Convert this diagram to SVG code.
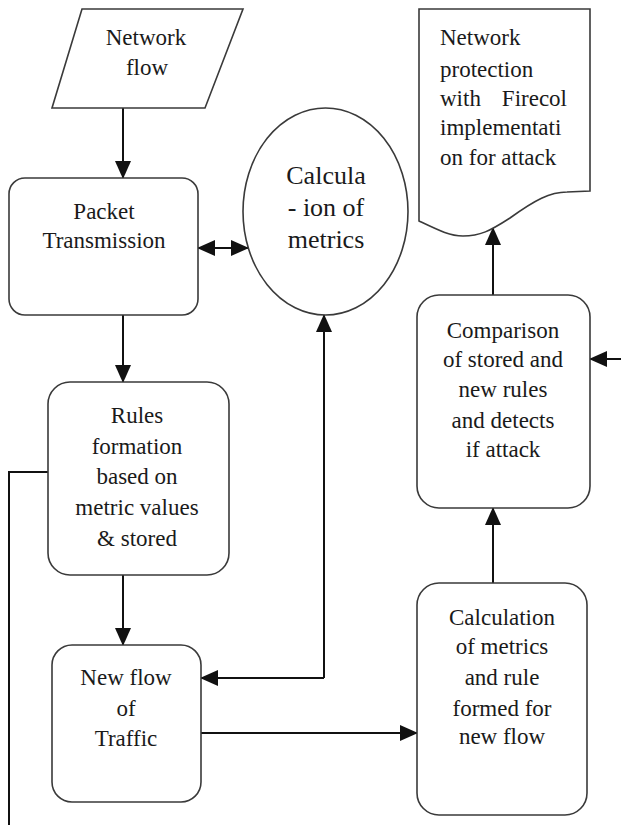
<svg xmlns="http://www.w3.org/2000/svg" width="621" height="825" viewBox="0 0 621 825">
<style>
.shape{fill:#fff;stroke:#3a3a3a;stroke-width:1.6}
.t{font-family:'Liberation Serif','Times New Roman','DejaVu Serif',serif;font-size:23px;fill:#1a1a1a;text-anchor:middle}
.tl{font-family:'Liberation Serif','Times New Roman','DejaVu Serif',serif;font-size:23px;fill:#1a1a1a}
.tb{font-family:'Liberation Serif','Times New Roman','DejaVu Serif',serif;font-size:26px;fill:#1a1a1a;text-anchor:middle}
.c{fill:none;stroke:#111;stroke-width:2}
.arr{marker-end:url(#ah)}
</style>
<defs>
<marker id="ah" markerUnits="userSpaceOnUse" markerWidth="18" markerHeight="16" viewBox="0 0 18 16" refX="17" refY="8" orient="auto-start-reverse">
<path d="M0,0 L18,8 L0,16 Z" fill="#111"/>
</marker>
</defs>
<rect width="621" height="825" fill="#fff"/>

<g id="connectors">
<path class="c arr" d="M123,108 V178"/>
<path class="c arr" d="M198,248 H248" marker-start="url(#ah)"/>
<path class="c arr" d="M123,315 V382"/>
<path class="c arr" d="M123,575 V645"/>
<path class="c arr" d="M324,678 H201"/>
<path class="c arr" d="M324,678 V315"/>
<path class="c arr" d="M201,733 H417"/>
<path class="c arr" d="M493,583 V508"/>
<path class="c arr" d="M493,295 V228"/>
<path class="c arr" d="M621,359 H590"/>
<path class="c" d="M48,472 H9 V825"/>
</g>

<g id="network-flow">
<polygon class="shape" points="82,9 243,9 205,108 52,108"/>
<text class="t" x="146" y="45">Network</text>
<text class="t" x="147" y="75">flow</text>
</g>

<g id="packet-transmission">
<rect class="shape" x="9" y="178" width="189" height="137" rx="16"/>
<text class="t" x="104" y="219">Packet</text>
<text class="t" x="104" y="248">Transmission</text>
</g>

<g id="calculation-of-metrics">
<ellipse class="shape" cx="325.5" cy="211.5" rx="82.5" ry="103.5"/>
<text class="tb" x="326" y="184">Calcula</text>
<text class="tb" x="326" y="216">- ion of</text>
<text class="tb" x="326" y="248">metrics</text>
</g>

<g id="rules-formation">
<rect class="shape" x="48" y="382" width="181" height="193" rx="22"/>
<text class="t" x="137" y="423">Rules</text>
<text class="t" x="137" y="454">formation</text>
<text class="t" x="137" y="484">based on</text>
<text class="t" x="137" y="515">metric values</text>
<text class="t" x="137" y="546">&amp; stored</text>
</g>

<g id="new-flow">
<rect class="shape" x="52" y="645" width="149" height="157" rx="20"/>
<text class="t" x="126" y="685">New flow</text>
<text class="t" x="126" y="716">of</text>
<text class="t" x="126" y="746">Traffic</text>
</g>

<g id="network-protection">
<path class="shape" d="M419,221 V9 H590 V191 L567,192 C550,192 535,200 510,218 C490,231 480,236 463,236 C450,236 440,231 419,221 Z"/>
<text class="tl" x="440" y="45">Network</text>
<text class="tl" x="440" y="77">protection</text>
<text class="tl" y="106"><tspan x="440">with</tspan><tspan x="567" text-anchor="end">Firecol</tspan></text>
<text class="tl" x="440" y="135">implementati</text>
<text class="tl" x="440" y="165">on for attack</text>
</g>

<g id="comparison">
<rect class="shape" x="417" y="295" width="173" height="213" rx="22"/>
<text class="t" x="503" y="338">Comparison</text>
<text class="t" x="503" y="367">of stored and</text>
<text class="t" x="503" y="397">new rules</text>
<text class="t" x="503" y="428">and detects</text>
<text class="t" x="503" y="457">if attack</text>
</g>

<g id="calculation-new-flow">
<rect class="shape" x="417" y="583" width="170" height="232" rx="22"/>
<text class="t" x="502" y="625">Calculation</text>
<text class="t" x="502" y="654">of metrics</text>
<text class="t" x="502" y="685">and rule</text>
<text class="t" x="502" y="716">formed for</text>
<text class="t" x="502" y="744">new flow</text>
</g>
</svg>
